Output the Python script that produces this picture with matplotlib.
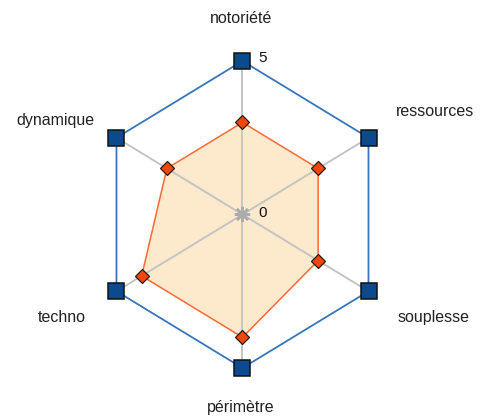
import numpy as np
import matplotlib
matplotlib.use("Agg")
import matplotlib.pyplot as plt

# Radar data
categories = ["notoriété", "ressources", "souplesse", "périmètre", "techno", "dynamique"]
max_values = [5, 5, 5, 5, 5, 5]
scores = [3, 3, 3, 4, 4, 3]
scale_labels = ["0", "5"]

plt.rcParams["font.family"] = ["Liberation Sans", "DejaVu Sans"]

fig = plt.figure(figsize=(4.81, 4.20), dpi=100)
ax = fig.add_axes([0, 0, 1, 1])
ax.set_xlim(-8.333, 8.196)
ax.set_ylim(-6.694, 6.987)
ax.axis("off")

n = len(categories)
angles = np.arange(n) * 2 * np.pi / n  # clockwise from the top


def to_xy(vals):
    v = np.asarray(vals, dtype=float)
    return v * np.sin(angles), v * np.cos(angles)


def closed(a):
    return np.append(a, a[0])


# spokes
ox, oy = to_xy(max_values)
for x, y in zip(ox, oy):
    ax.plot([0, x], [0, y], color="#c4c4c4", lw=1.4, zorder=2)

# score polygon
sx, sy = to_xy(scores)
ax.fill(closed(sx), closed(sy), color="#fde9cc", zorder=1)
ax.plot(closed(sx), closed(sy), color="#ff6a3a", lw=1.1, zorder=3)
ax.plot(sx, sy, ls="none", marker="D", markersize=7.5, markerfacecolor="#f2460f",
        markeredgecolor="#2a1a10", markeredgewidth=0.9, zorder=5)

# outer polygon
ax.plot(closed(ox), closed(oy), color="#3a74bb", lw=1.3, zorder=3)
ax.plot(ox, oy, ls="none", marker="s", markersize=11.5, markerfacecolor="#0b4a8f",
        markeredgecolor="#111111", markeredgewidth=1.1, zorder=6)

# centre marker
ax.plot([0], [0], marker=(8, 2, 0), markersize=11, color="#acacac", mew=1.8, zorder=4)

# scale labels
ax.text(0.55, 0.05, scale_labels[0], fontsize=11, color="#111111", ha="left", va="center", zorder=7)
ax.text(0.55, 5.1, scale_labels[1], fontsize=11, color="#111111", ha="left", va="center", zorder=7)

# category labels
label_x = [-0.05, 6.62, 6.56, -0.05, -6.22, -6.44]
label_y = [6.40, 3.34, -3.37, -6.30, -3.34, 3.05]
for name, lx, ly in zip(categories, label_x, label_y):
    ax.text(lx, ly, name, fontsize=11.5, color="#222222", ha="center", va="center")

fig.savefig("out.png", dpi=100)
